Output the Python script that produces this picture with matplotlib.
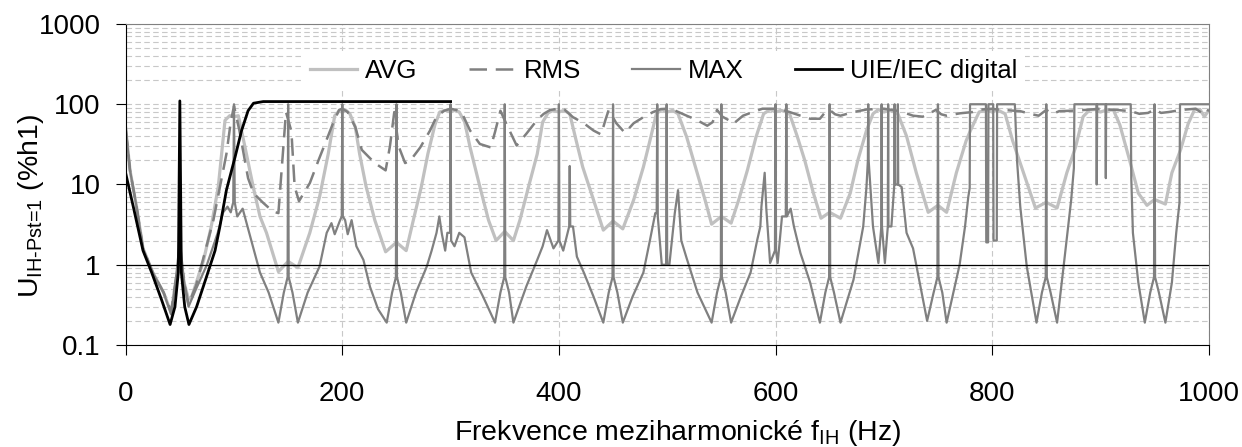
import matplotlib
matplotlib.use('Agg')
import matplotlib.pyplot as plt
from matplotlib.ticker import LogLocator, NullFormatter

# frequencies (Hz) and levels (%h1)
avg_f = [0, 4, 10, 16, 25, 35, 42, 46, 50, 54, 58, 61, 72, 79, 85.5, 88.6, 91.7, 96, 100,
         104, 110, 118, 124, 130, 141, 150, 159, 170, 179, 187, 193, 197, 200,
         203, 207, 212, 216, 222, 230, 240, 250, 259, 265.6, 273, 279, 285.6, 290, 295, 300,
         304, 308, 313, 318, 327, 335, 342, 350, 358, 364, 372, 380, 385, 390, 395, 400,
         405, 410, 416, 422, 432, 441, 450, 459, 469, 478, 484, 490, 495, 500,
         505, 510, 518, 527, 535, 541, 550, 559, 566, 574, 582, 589, 595, 600,
         605, 610, 613, 620, 627, 635, 642, 650, 660, 669, 676, 684, 690, 695, 700,
         705, 710, 713, 721, 730, 741, 750, 758, 767, 776, 780, 788, 795, 800,
         805, 812, 819, 829, 840, 850, 860, 869, 877, 884, 890, 895, 900,
         905, 912, 918, 927, 935, 943, 950, 960, 966, 974, 981, 987, 992, 996, 1000]
avg_v = [50, 15, 5.3, 1.6, 0.8, 0.45, 0.25, 0.6, 1.2, 0.6, 0.37, 0.4, 1.15, 3, 9.4, 24, 63, 72, 70,
         72, 30, 9, 4, 2.5, 0.82, 1.1, 0.92, 2.5, 7, 24, 72, 82, 80,
         85, 76, 52, 24, 9.4, 3.6, 1.45, 1.9, 1.5, 3.6, 9.4, 24, 56, 80, 84, 80,
         84, 80, 60, 29, 9.4, 3.6, 2.0, 2.6, 2.0, 3.6, 9.4, 24, 60, 78, 84, 80,
         84, 76, 35, 16.5, 6.4, 2.7, 3.5, 2.8, 6.4, 16.5, 35, 76, 86, 80,
         84, 76, 39, 15, 6.4, 3.2, 4, 3.3, 6.4, 15, 39, 76, 86, 80,
         84, 80, 76, 40, 20, 7.8, 3.8, 4.5, 3.8, 7.8, 20, 47, 76, 86, 80,
         84, 80, 76, 40, 14, 4.5, 5.5, 4.5, 14, 35, 47, 80, 86, 80,
         85, 76, 35, 14, 5.1, 6, 5.1, 14, 29, 70, 85, 86, 80,
         84, 85, 55, 20, 7.8, 5.5, 6.5, 5.7, 14, 27, 57, 86, 86, 70, 84]

rms_f = [0, 4, 10, 16, 25, 35, 42, 46, 50, 54, 58, 65, 73, 81, 87, 93, 97, 100,
         105, 113, 118, 127, 136, 141, 144, 148, 153, 156, 160, 170, 178, 184, 191, 197, 200,
         205, 212, 218, 230, 240, 244, 248, 252, 258, 263, 272, 281, 287, 294, 300,
         305, 310, 318, 327, 337, 341, 346, 352, 361, 370, 380, 386, 392, 400,
         405, 413, 423, 432, 439, 443, 446, 453, 461, 469, 478, 487, 494, 500,
         505, 518, 527, 537, 542, 546, 551, 558, 561, 570, 579, 588, 600,
         605, 613, 623, 632, 641, 646, 650, 655, 660, 672, 684, 700,
         705, 715, 727, 736, 743, 748, 753, 758, 770, 782, 790, 800,
         805, 815, 826, 835, 843, 850, 856, 862, 873, 886, 900,
         905, 915, 928, 936, 944, 950, 956, 963, 975, 988, 996, 1000]
rms_v = [50, 15, 5.3, 1.6, 0.8, 0.45, 0.26, 0.6, 1.5, 0.6, 0.32, 0.55, 1.4, 3.6, 9.3, 24, 60, 95,
         47, 12, 7.8, 5.9, 4.6, 4.4, 15, 80, 46, 9.4, 6.2, 10.4, 20, 32, 56, 85, 88,
         80, 52, 27, 18.5, 15, 30, 80, 30, 18.5, 20, 29, 47, 70, 83, 88,
         85, 80, 47, 32, 29, 45, 83, 55, 30.6, 43, 64, 76, 85, 88,
         86, 69, 58, 47, 42, 64, 85, 58, 44, 58, 69, 80, 87, 88,
         86, 72, 64, 54, 60, 85, 70, 62, 57, 72, 80, 88, 88,
         86, 80, 72, 66, 66, 80, 85, 75, 72, 80, 86, 88,
         86, 82, 72, 70, 78, 85, 75, 72, 77, 80, 86, 88,
         86, 84, 82, 76, 72, 85, 76, 82, 83, 85, 88,
         86, 85, 82, 76, 78, 86, 78, 80, 85, 88, 74, 86]

max_f = [0, 4, 10, 16, 25, 35, 42, 46, 50, 54, 58, 65, 75, 85, 90, 94, 97, 99.3, 100, 100.7,
         103, 108, 116, 124, 132, 141, 146, 149.5, 150, 150.5, 154, 159, 168, 179, 185.6, 190, 193, 198, 199.5, 200, 200.5,
         202.6, 205, 208.6, 213, 219.5, 225.6, 233, 241, 246, 249.5, 250, 250.5, 254, 259, 268, 278, 282.5, 287, 289.6, 292, 295, 297, 299.5, 300, 300.5,
         303.6, 308, 312.8, 319, 330, 341, 346, 349.5, 350, 350.5, 354, 358, 370, 380, 385, 389, 395, 399.5, 400, 400.5,
         404, 409.5, 410, 410.5, 413, 416.6, 423, 432, 441, 446, 449.5, 450, 450.5, 454, 459, 468, 478, 484, 489, 490.3, 490.8, 491.3, 495, 499, 499.5, 500, 502, 507, 510, 513, 518,
         528, 541, 546, 549.5, 550, 550.5, 554, 559, 568, 577, 583, 586, 587, 590, 591.5, 595, 599.5, 600, 600.5, 602, 606, 609.5, 610, 610.5, 614, 617, 623, 632,
         641, 646, 649.5, 650, 650.5, 654, 660, 672, 681, 684, 685.3, 685.6, 686, 690, 695, 697.7, 698, 698.3, 701, 703.7, 704, 704.3, 707, 709.7, 710, 710.3, 712.7, 713, 713.3, 716.5, 721, 727,
         740, 746, 749.5, 750, 750.5, 754, 758, 770, 775, 778, 779.3, 779.6, 794.3, 794.6, 796.3, 796.6, 801, 801.3, 804.3, 804.6, 821, 823, 826, 832,
         841, 846, 849.5, 850, 850.5, 854, 860, 866, 873, 875.5, 876, 896.3, 896.6, 897, 904.7, 905, 905.3, 928, 928.5, 930, 935,
         941, 946, 949.5, 950, 950.5, 954, 960, 966, 970, 973, 973.5, 1000]
max_v = [50, 15, 5.3, 1.6, 0.8, 0.45, 0.24, 0.6, 2, 0.6, 0.3, 0.5, 1.0, 2.5, 4.5, 5.3, 4.5, 6, 100, 6,
         4, 5, 2, 0.8, 0.45, 0.19, 0.45, 0.7, 100, 0.7, 0.45, 0.19, 0.45, 0.95, 2.5, 3.3, 2.4, 3.6, 4, 100, 4,
         3.6, 2.4, 3.6, 1.7, 1.15, 0.53, 0.28, 0.19, 0.45, 0.7, 100, 0.7, 0.45, 0.19, 0.45, 0.95, 1.5, 2.5, 4, 2.4, 1.5, 2.5, 2.5, 100, 2,
         1.7, 2.5, 2.2, 0.8, 0.4, 0.19, 0.45, 0.7, 100, 0.7, 0.45, 0.19, 0.54, 1.15, 1.7, 2.7, 1.6, 2, 100, 2,
         1.5, 3, 17, 3, 3, 1.26, 0.8, 0.4, 0.19, 0.45, 0.7, 100, 0.7, 0.45, 0.19, 0.4, 0.8, 2, 4.4, 4.4, 100, 4, 1, 1, 100, 1, 1, 4.4, 8.5, 2, 1.2,
         0.45, 0.19, 0.45, 0.7, 100, 0.7, 0.45, 0.19, 0.4, 0.8, 2, 3, 5.3, 14, 5, 1.05, 1.5, 100, 1.5, 1.05, 4, 4, 100, 4, 5, 3, 1.4, 0.6,
         0.19, 0.45, 0.7, 100, 0.7, 0.45, 0.19, 0.65, 3, 9.3, 20, 100, 20, 3, 1.05, 3, 100, 3, 1.05, 3, 100, 3, 3, 10, 100, 10, 10, 100, 10, 9.3, 2.5, 1.6,
         0.2, 0.45, 0.7, 100, 0.7, 0.45, 0.19, 1.0, 3, 7, 9, 100, 100, 1.9, 1.9, 100, 100, 2.0, 2.0, 100, 100, 20, 5.3, 0.95,
         0.19, 0.45, 0.7, 100, 0.7, 0.45, 0.19, 0.95, 6.4, 16, 100, 100, 10, 100, 100, 12, 100, 100, 12, 2.5, 0.6,
         0.19, 0.45, 0.7, 100, 0.7, 0.45, 0.19, 0.6, 2.5, 5.9, 100, 100]

uie_f = [0, 7, 16, 24, 33, 41, 45.5, 48.6, 50, 51.4, 54.5, 58.4, 65.5, 74.8, 82.5, 87, 93, 101, 107, 113, 118, 127, 300]
uie_v = [13.8, 5.3, 1.5, 0.8, 0.37, 0.18, 0.3, 0.8, 110, 0.8, 0.3, 0.18, 0.3, 0.72, 1.5, 3, 8.5, 22, 47, 83, 103, 108, 108]

series_names = ['AVG', 'RMS', 'MAX', 'UIE/IEC digital']
x_ticks = [0, 200, 400, 600, 800, 1000]
y_ticks = [0.1, 1, 10, 100, 1000]
y_tick_labels = ['0.1', '1', '10', '100', '1000']

plt.rcParams['font.family'] = ['Liberation Sans', 'DejaVu Sans']
plt.rcParams['mathtext.fontset'] = 'custom'
plt.rcParams['mathtext.rm'] = 'Liberation Sans'

fig = plt.figure(figsize=(12.42, 4.47), dpi=100)
ax = fig.add_axes([0.1012, 0.2282, 0.8720, 0.7181])

ax.plot(avg_f, avg_v, color='#c0c0c0', lw=2.3, label=series_names[0])
ax.plot(rms_f, rms_v, color='#808080', lw=1.8, dashes=(7, 3.5), label=series_names[1])
ax.plot(max_f, max_v, color='#808080', lw=1.6, label=series_names[2])
ax.plot(uie_f, uie_v, color='black', lw=2.0, label=series_names[3])
ax.axhline(1, color='black', lw=0.9)

ax.set_yscale('log')
ax.set_ylim(0.1, 1000)
ax.set_xlim(0, 1000)
ax.set_yticks(y_ticks)
ax.set_yticklabels(y_tick_labels)
ax.yaxis.set_minor_locator(LogLocator(base=10, subs=range(2, 10)))
ax.yaxis.set_minor_formatter(NullFormatter())
ax.set_xticks(x_ticks)
ax.tick_params(which='major', direction='out', length=7, width=0.8, labelsize=20)
ax.tick_params(axis='x', pad=19)
ax.tick_params(axis='y', pad=11)
ax.tick_params(which='minor', length=0)

ax.grid(True, which='both', axis='y', color='#c8c8c8', ls=(0, (5, 3)), lw=0.8)
ax.grid(True, which='major', axis='x', color='#c8c8c8', ls=(0, (5, 3)), lw=0.8)
ax.set_axisbelow(True)

for s in ['top', 'right']:
    ax.spines[s].set_color('#808080')
for s in ['left', 'bottom']:
    ax.spines[s].set_color('black')

ax.legend(ncol=4, loc='center', bbox_to_anchor=(0.4966, 0.855), fontsize=18.5,
          frameon=True, facecolor='white', edgecolor='none', framealpha=1, fancybox=False,
          handlelength=1.85, handletextpad=0.3, columnspacing=2.0, borderpad=0.3)

ax.set_xlabel('Frekvence meziharmonické f$_{\\mathregular{IH}}$ (Hz)', fontsize=20.5, va='baseline')
ax.xaxis.set_label_coords(0.5095, -0.296)
ax.set_ylabel('U$_{\\text{IH-Pst=1}}$ (%h1)', fontsize=20.5, va='center')
ax.yaxis.set_label_coords(-0.0874, 0.433)

fig.savefig('out.png', dpi=100)
